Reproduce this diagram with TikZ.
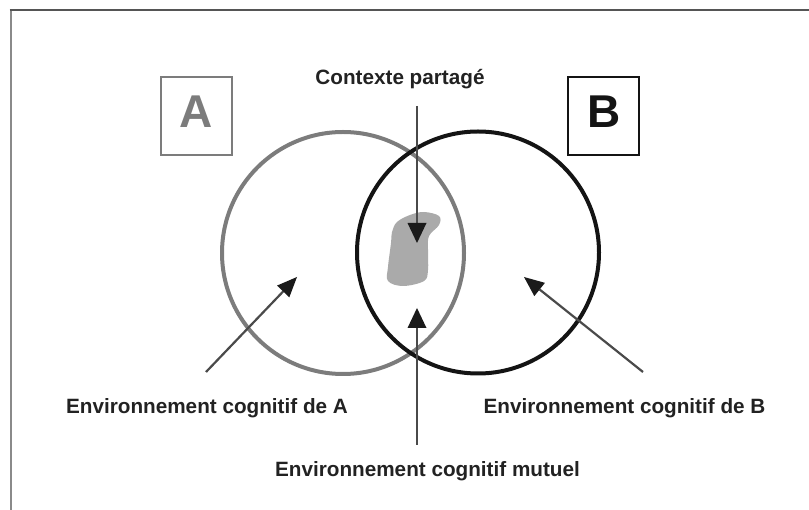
\documentclass[tikz,border=0pt]{standalone}
\usepackage{fontspec}
\setmainfont{Liberation Sans}
\usetikzlibrary{arrows.meta}
\definecolor{framedark}{HTML}{555555}
\definecolor{framelight}{HTML}{8A8A8A}
\definecolor{circA}{HTML}{7C7C7C}
\definecolor{circB}{HTML}{141414}
\definecolor{blobgray}{HTML}{AAAAAA}
\definecolor{txt}{HTML}{222222}
\definecolor{linegray}{HTML}{4A4A4A}
\definecolor{tipblack}{HTML}{1A1A1A}
\tikzset{
  lbl/.style={font=\bfseries\fontsize{20.7}{24}\selectfont, text=txt, inner sep=0pt, anchor=base},
  letterbox/.style={draw, line width=2pt, minimum width=71pt, minimum height=78pt, inner sep=0pt},
  bigletter/.style={font=\bfseries\fontsize{46}{50}\selectfont, inner sep=0pt},
  ring/.style={circle, line width=4pt, minimum size=242pt, inner sep=0pt},
  pointer/.style={line width=2.5pt, draw=linegray, -{Triangle[length=20pt,width=19pt,line width=0pt,color=tipblack,fill=tipblack]}},
  sidepointer/.style={line width=2.2pt, draw=linegray, -{Triangle[length=20pt,width=17pt,line width=0pt,color=tipblack,fill=tipblack]}}
}
\begin{document}
\begin{tikzpicture}[x=1pt,y=-1pt]
\useasboundingbox (0,0) rectangle (809,510);
% frame
\draw[framelight, line width=2pt] (10.5,510) -- (10.5,10);
\draw[framedark, line width=2pt] (9.5,10.5) -- (809,10.5);

% letter boxes
\node[letterbox, draw=circA] (boxA) at (196.5,116) {};
\node[bigletter, text=circA] (letA) at (196.5,111.5) {A};
\node[letterbox, draw=circB] (boxB) at (603.5,116) {};
\node[bigletter, text=circB] (letB) at (604,111.5) {B};

% shared context blob
\fill[blobgray] plot[smooth cycle, tension=0.6] coordinates {
  (424,212) (439,216) (439,225) (429,236) (428,250) (428,270) (424,281)
  (403,286) (388,281) (388,267) (391,243) (392,232) (397,222) (410,215)};

% circles
\node[ring, draw=circA] (cA) at (343,253) {};
\node[ring, draw=circB] (cB) at (478,252.5) {};

% labels
\node[lbl] (ctx) at (400,85) {Contexte partagé};
\node[lbl] (envA) at (207,414) {Environnement cognitif de A};
\node[lbl] (envB) at (624.5,414) {Environnement cognitif de B};
\node[lbl] (envM) at (427.5,477) {Environnement cognitif mutuel};

% arrow end points
\coordinate (ctxStart) at (417,106);
\coordinate (ctxTip) at (417,243);
\coordinate (mutStart) at (417,445);
\coordinate (mutTip) at (417,308);
\coordinate (aStart) at (206,372);
\coordinate (aTip) at (297,277);
\coordinate (bStart) at (643,372);
\coordinate (bTip) at (524,277);

\draw[pointer] (ctxStart) -- (ctxTip);
\draw[pointer] (mutStart) -- (mutTip);
\draw[sidepointer] (aStart) -- (aTip);
\draw[sidepointer] (bStart) -- (bTip);
\end{tikzpicture}
\end{document}
